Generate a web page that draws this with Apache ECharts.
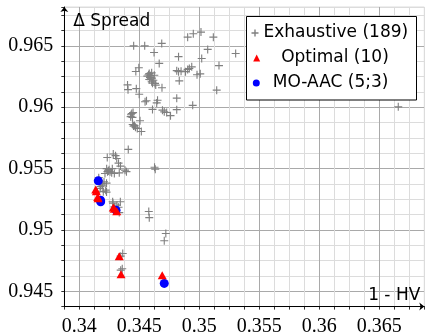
<!DOCTYPE html>
<html><head><meta charset="utf-8">
<script src="https://cdn.jsdelivr.net/npm/echarts@6/dist/echarts.min.js"></script>
<style>html,body{margin:0;padding:0;background:#fff}#c{width:428px;height:335px}</style>
</head><body><div id="c"></div>
<script>
// Exhaustive (gray plus) points [1-HV, Delta Spread]
const exhaustive = [
[0.34453,0.96500],[0.34545,0.96500],[0.34623,0.96446],[0.34687,0.96520],[0.34666,0.96357],[0.34471,0.96291],
[0.34496,0.96322],[0.34583,0.96275],[0.34603,0.96280],[0.34567,0.96253],[0.34589,0.96242],[0.34583,0.96226],
[0.34617,0.96220],[0.34603,0.96207],[0.34631,0.96194],[0.34625,0.96261],[0.34610,0.96196],[0.34637,0.96180],
[0.34689,0.96159],[0.34402,0.96182],[0.34406,0.96143],[0.34475,0.96151],[0.34499,0.96106],[0.34548,0.96044],
[0.34560,0.96053],[0.34652,0.96057],[0.34645,0.96035],[0.34610,0.95982],[0.34693,0.95976],[0.34708,0.95962],
[0.34760,0.95931],[0.34728,0.95957],[0.34812,0.96074],[0.34812,0.95980],[0.34833,0.96215],[0.34812,0.96298],
[0.34827,0.96290],[0.34848,0.96294],[0.34885,0.96290],[0.34903,0.96308],[0.34917,0.96316],[0.34937,0.96329],
[0.34827,0.96412],[0.34903,0.96571],[0.34950,0.96599],[0.35014,0.96612],[0.35117,0.96571],[0.35070,0.96471],
[0.35020,0.96397],[0.34981,0.96265],[0.35008,0.96272],[0.35164,0.96339],[0.35145,0.96139],[0.34945,0.96015],
[0.35303,0.96438],[0.36658,0.96003],[0.34437,0.95949],[0.34448,0.95956],[0.34428,0.95923],[0.34443,0.95917],
[0.34506,0.95890],[0.34445,0.95859],[0.34460,0.95851],[0.34468,0.95837],[0.34483,0.95827],[0.34517,0.95802],
[0.34408,0.95656],[0.34233,0.95590],[0.34283,0.95619],[0.34302,0.95605],[0.34312,0.95582],[0.34327,0.95544],
[0.34343,0.95520],[0.34381,0.95487],[0.34393,0.95475],[0.34228,0.95499],[0.34242,0.95481],[0.34256,0.95473],
[0.34270,0.95465],[0.34275,0.95499],[0.34292,0.95460],[0.34333,0.95465],[0.34214,0.95460],[0.34627,0.95511],
[0.34633,0.95495],[0.34162,0.95426],[0.34166,0.95401],[0.34187,0.95379],[0.34206,0.95392],[0.34227,0.95381],
[0.34173,0.95338],[0.34200,0.95312],[0.34227,0.95308],[0.34220,0.95324],[0.34278,0.95229],[0.34342,0.95230],
[0.34327,0.95185],[0.34292,0.95188],[0.34333,0.95141],[0.34579,0.95150],[0.34583,0.95100],[0.34721,0.94971],
[0.34708,0.94912],[0.34362,0.94808],[0.34345,0.94786],[0.34358,0.94683],[0.34345,0.94672],
[0.34593,0.96257],[0.34606,0.96237],[0.34577,0.96265],[0.34431,0.95939],[0.34452,0.95846],[0.34248,0.95491],
[0.34193,0.95365],[0.34177,0.95353],[0.34235,0.95475],[0.34281,0.95218],[0.34314,0.95202]
];
// Optimal (red triangles)
const optimal = [
[0.34137,0.95330],[0.34153,0.95269],[0.34283,0.95183],[0.34312,0.95153],[0.34333,0.94786],
[0.34348,0.94639],[0.34691,0.94631],[0.34142,0.95316],[0.34156,0.95259],[0.34292,0.95173]
];
// MO-AAC (blue circles)
const moaac = [
[0.34158,0.95400],[0.34178,0.95229],[0.34306,0.95161],[0.34708,0.94564],[0.34177,0.95242]
];
const seriesNames = ['Exhaustive (189)', 'Optimal (10)', 'MO-AAC (5;3)'];
const xTickLabels = ['0.34','0.345','0.35','0.355','0.36','0.365'];
const yTickLabels = ['0.945','0.95','0.955','0.96','0.965'];
const xAxisName = '1 - HV';
const yAxisName = '\u0394 Spread';

const plusPath = 'path://M4.3,0H5.7V4.3H10V5.7H5.7V10H4.3V5.7H0V4.3H4.3Z';
const plusLegend = 'path://M4,0H6V4H10V6H6V10H4V6H0V4H4Z';
const MAJ = '#a9a9a9', MIN = '#dcdcdc';

function fmt(list) {
  return function (v) {
    for (const s of list) { if (Math.abs(parseFloat(s) - v) < 1e-7) return s; }
    return '';
  };
}
const serif = 'Liberation Serif';
const sans = 'DejaVu Sans';

const chart = echarts.init(document.getElementById('c'), null, {renderer: 'canvas'});
chart.setOption({
  animation: false,
  backgroundColor: '#fff',
  grid: {left: 64.3, right: 3.7, top: 7, bottom: 28.4, show: true, borderColor: MIN, borderWidth: 1,
         backgroundColor: 'transparent', containLabel: false, outerBoundsMode: 'none'},
  xAxis: {
    type: 'value', min: 0.33875, max: 0.36875, interval: 0.00125,
    name: xAxisName, nameLocation: 'end', nameGap: -4,
    nameTextStyle: {fontFamily: sans, fontSize: 17, color: '#000', align: 'right', verticalAlign: 'bottom', padding: [0, 0, 3, 0]},
    axisLine: {show: true, onZero: false, symbol: ['none', 'arrow'], symbolSize: [6, 5], lineStyle: {color: '#000', width: 1}},
    axisTick: {show: true, length: 3, lineStyle: {color: '#000', width: 0.8}},
    axisLabel: {formatter: fmt(xTickLabels), fontFamily: serif, fontSize: 20, color: '#000', margin: 10, hideOverlap: false},
    splitLine: {show: true, lineStyle: {color: [MIN, MAJ, MIN, MIN], width: 1}}
  },
  yAxis: {
    type: 'value', min: 0.94375, max: 0.968167, interval: 0.00125,
    name: yAxisName, nameLocation: 'end', nameGap: -6,
    nameTextStyle: {fontFamily: sans, fontSize: 17, color: '#000', align: 'left', verticalAlign: 'top', padding: [0, 0, 0, 9]},
    axisLine: {show: true, onZero: false, symbol: ['none', 'arrow'], symbolSize: [6, 5], lineStyle: {color: '#000', width: 1}},
    axisTick: {show: true, length: 3, lineStyle: {color: '#000', width: 0.8}},
    axisLabel: {formatter: fmt(yTickLabels), fontFamily: serif, fontSize: 20, color: '#000', margin: 11, hideOverlap: false},
    splitLine: {show: true, lineStyle: {color: [MIN, MAJ, MIN, MIN], width: 1}}
  },
  legend: [
    {data: [{name: seriesNames[0], icon: plusLegend}], left: 251.5, top: 23, itemWidth: 7, itemHeight: 7, padding: 0, z: 20,
     textStyle: {fontFamily: sans, fontSize: 17, color: '#000', lineHeight: 20}},
    {data: [{name: seriesNames[1], icon: 'triangle'}], left: 253.2, top: 48, itemWidth: 7, itemHeight: 7, padding: 0, z: 20,
     textStyle: {fontFamily: sans, fontSize: 17, color: '#000', lineHeight: 20, padding: [0, 0, 0, 16]}},
    {data: [{name: seriesNames[2], icon: 'circle'}], left: 252.8, top: 73, itemWidth: 7, itemHeight: 7, padding: 0, z: 20,
     textStyle: {fontFamily: sans, fontSize: 17, color: '#000', lineHeight: 20, padding: [0, 0, 0, 8]}}
  ],
  graphic: {elements: [{type: 'rect', z: 15, shape: {x: 246.5, y: 16.5, width: 170, height: 83.5},
            style: {fill: '#fff', stroke: '#000', lineWidth: 1}}]},
  series: [
    {type: 'scatter', name: seriesNames[0], data: exhaustive, symbol: plusPath, symbolSize: 8, z: 2,
     itemStyle: {color: '#808080', opacity: 1}},
    {type: 'scatter', name: seriesNames[2], data: moaac, symbol: 'circle', symbolSize: 9, z: 3,
     itemStyle: {color: '#0000ff', opacity: 1}},
    {type: 'scatter', name: seriesNames[1], data: optimal, symbol: 'triangle', symbolSize: [9, 8], z: 4,
     itemStyle: {color: '#ff0000', opacity: 1}}
  ]
});
</script></body></html>
